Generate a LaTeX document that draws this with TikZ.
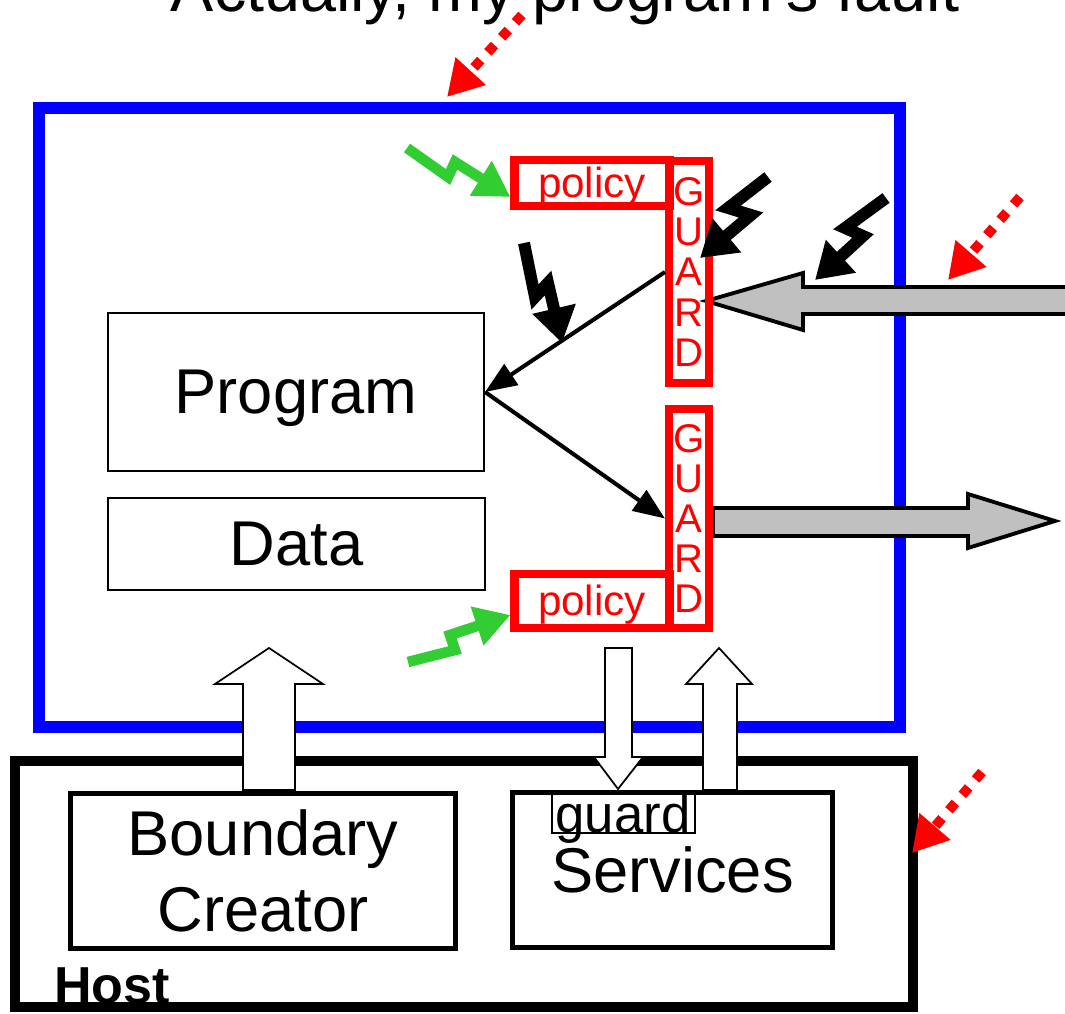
\documentclass[tikz,border=0pt]{standalone}
\usepackage{fontspec}
\setmainfont{Liberation Sans}
\usetikzlibrary{arrows.meta}
\definecolor{boltgreen}{RGB}{50,205,50}
\definecolor{pipegray}{RGB}{192,192,192}

\begin{document}
\begin{tikzpicture}[x=0.1mm, y=-0.1mm,
    bigfont/.style={font=\fontsize{18}{21.5}\selectfont},
    plainbox/.style={draw, line width=0.6pt, inner sep=0pt, bigfont},
    hostbox/.style={draw, line width=1.4pt, inner sep=0pt, bigfont, align=center},
    redbox/.style={draw=red, line width=2.3pt, inner sep=0pt, text=red},
    polbox/.style={redbox, minimum width=15.5mm, font=\fontsize{12}{12}\selectfont, text height=10.5pt, text depth=2.5pt},
    guardbox/.style={redbox, minimum width=4mm, align=center, font=\fontsize{11.4}{11.45}\selectfont},
    flow/.style={-{Triangle[length=9pt,width=7pt]}, line width=1.15pt},
    bolt/.style={-{Triangle[length=10pt,width=12pt]}, line width=3.4pt},
    greenbolt/.style={-{Triangle[length=10pt,width=11pt]}, draw=boltgreen, line width=3pt},
    attack/.style={-{Triangle[length=10pt,width=11pt]}, draw=red, line width=2.8pt, dash pattern=on 2.8pt off 3pt},
    blockarrow/.style={draw, fill=white, line width=0.5pt},
    pipe/.style={draw, fill=pipegray, line width=1.1pt}]

    \useasboundingbox (0,0) rectangle (1065,1013);
    \clip (0,0) rectangle (1065,1013);

    % Title (cut at the top)
    \node[anchor=base, font=\fontsize{18.4}{20}\selectfont] (title) at (565,12) {Actually, my program's fault};

    % Boundary and host
    \node[draw=blue, line width=3.4pt, minimum width=86.1mm, minimum height=61.9mm] (boundary) at (469.5,417.5) {};
    \node[draw, line width=2.85pt, minimum width=89.8mm, minimum height=24.6mm] (host) at (464,884) {};

    % Channels in and out
    \draw[pipe] (1080,287) -- (803,287) -- (803,273) -- (706,301) -- (803,330) -- (803,314) -- (1080,314) -- cycle;
    \draw[pipe] (713,508) -- (968,508) -- (968,494) -- (1055,521) -- (968,548) -- (968,536) -- (713,536) -- cycle;

    % Host services arrows
    \draw[blockarrow] (243,790) -- (243,684) -- (215,684) -- (269,648) -- (323,684) -- (295,684) -- (295,790) -- cycle;
    \draw[blockarrow] (605,648) -- (632,648) -- (632,757) -- (643,757) -- (618,789) -- (594,757) -- (605,757) -- cycle;
    \draw[blockarrow] (703,790) -- (703,684) -- (686,684) -- (719,648) -- (752,684) -- (737,684) -- (737,790) -- cycle;

    % Program and data
    \node[plainbox, minimum width=37.6mm, minimum height=15.8mm, text depth=0pt] (prog) at (296,392) {Program};
    \node[plainbox, minimum width=37.7mm, minimum height=9.2mm] (data) at (296.5,544) {Data};

    % Host parts
    \node[hostbox, minimum width=38.5mm, minimum height=15.5mm] (creator) at (263,871) {Boundary\\Creator};
    \node[hostbox, minimum width=32mm, minimum height=15.5mm] (services) at (672.5,870) {Services};
    \node[draw, line width=0.5pt, minimum width=14.3mm, minimum height=4mm, inner sep=0pt] (gbox) at (623.5,813) {};
    \node[anchor=base, font=\fontsize{15}{15}\selectfont] (glabel) at (623,832) {guard};
    \node[anchor=base west, font=\bfseries\fontsize{14.8}{16}\selectfont] (hostlabel) at (42,1003) {Host};

    % Guards and policies
    \node[polbox, minimum height=4.4mm] (polU) at (592,183) {policy};
    \node[guardbox, minimum height=22.2mm] (guardU) at (689,272) {G\\U\\A\\R\\D};
    \node[guardbox, minimum height=21.9mm] (guardL) at (689,518.5) {G\\U\\A\\R\\D};
    \node[polbox, minimum height=5.4mm] (polL) at (592,601) {policy};

    % Data flow through the guards
    \draw[flow] (guardU.west) -- (prog.east);
    \draw[flow] (prog.east) -- (guardL.west);

    % Policy updates
    \draw[greenbolt] (407,148) -- (448,177) -- (455,162) -- (polU.west |- 0,197);
    \draw[greenbolt] (408,662) -- (455,650) -- (450,635) -- (polL.west |- 0,615);

    % Attacks
    \draw[bolt] (524,243) -- (535,297) -- (548,283) -- (562,343);
    \draw[bolt] (768,177) -- (728,208) -- (751,215) -- (700,258);
    \draw[bolt] (886,198) -- (845,228) -- (863,236) -- (815,280);
    \draw[attack] (522,15) -- (447,97);
    \draw[attack] (1020,197) -- (948,280);
    \draw[attack] (982,772) -- (912,853);
\end{tikzpicture}
\end{document}
